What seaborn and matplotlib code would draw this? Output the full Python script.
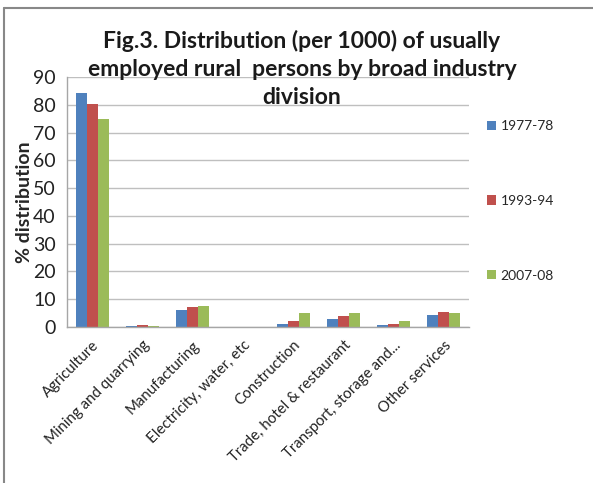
import matplotlib
matplotlib.use("Agg")
import matplotlib.pyplot as plt
import seaborn as sns
import pandas as pd
from matplotlib.lines import Line2D
from matplotlib.patches import Patch

categories = ["Agriculture", "Mining and quarrying", "Manufacturing",
              "Electricity, water, etc", "Construction",
              "Trade, hotel & restaurant", "Transport, storage and...",
              "Other services"]
series = ["1977-78", "1993-94", "2007-08"]
v1977 = [84.4, 0.5, 6.1, 0.0, 1.2, 3.0, 0.6, 4.2]
v1993 = [80.4, 0.7, 7.1, 0.0, 2.2, 3.9, 1.1, 5.3]
v2007 = [75.0, 0.5, 7.6, 0.0, 4.9, 4.9, 2.2, 4.9]
colors = ["#4F81BD", "#C0504D", "#9BBB59"]
yticks = [0, 10, 20, 30, 40, 50, 60, 70, 80, 90]

rows = []
for s, vals in zip(series, [v1977, v1993, v2007]):
    for c, v in zip(categories, vals):
        rows.append({"Industry": c, "Period": s, "Value": v})
df = pd.DataFrame(rows)

sns.set_style("white")
plt.rcParams["font.family"] = ["Lato", "DejaVu Sans"]

fig = plt.figure(figsize=(5.93, 4.83), dpi=100)
ax = fig.add_axes([67/593, 1-327/483, (469-67)/593, (327-77)/483])

sns.barplot(data=df, x="Industry", y="Value", hue="Period", order=categories,
            hue_order=series, palette=colors, width=0.66, gap=0,
            linewidth=0, edgecolor="none", saturation=1, ax=ax, legend=False)

ax.set_ylim(0, 90)
ax.set_xlim(-0.5, len(categories) - 0.5)
ax.set_yticks(yticks)
ax.set_yticklabels([str(t) for t in yticks], fontsize=14, color="#222222")
ax.yaxis.grid(True, color="#BFBFBF", linewidth=1)
ax.set_axisbelow(True)
for sp in ["top", "right"]:
    ax.spines[sp].set_visible(False)
for sp in ["left", "bottom"]:
    ax.spines[sp].set_color("#A6A6A6")
    ax.spines[sp].set_linewidth(1)

ax.set_xticks(range(len(categories)))
ax.set_xticklabels(categories, rotation=45, ha="right", rotation_mode="anchor",
                   fontsize=10.8, color="#222222")
ax.tick_params(axis="x", which="major", length=0, pad=8)
ax.set_xticks([i - 0.5 for i in range(len(categories) + 1)], minor=True)
ax.tick_params(axis="x", which="minor", length=5, color="#A6A6A6", direction="out")
ax.tick_params(axis="y", which="major", length=5, color="#A6A6A6", direction="out", pad=3)

ax.set_xlabel("")
ax.set_ylabel("% distribution", fontsize=14, fontweight="bold", labelpad=0)

handles = [Patch(facecolor=c, edgecolor="none") for c in colors]
fig.legend(handles, series, loc="center left",
           bbox_to_anchor=(474/593, 1-201/483), frameon=False, fontsize=10,
           handlelength=0.65, handleheight=0.65, handletextpad=0.35,
           labelspacing=4.5)

fig.text(302/593, 1-69/483,
         "Fig.3. Distribution (per 1000) of usually\nemployed rural  persons by broad industry\ndivision",
         ha="center", va="center", fontsize=16.5, fontweight="bold",
         linespacing=1.4, color="#1a1a1a")

fig.add_artist(Line2D([4/593, 1], [1-8/483, 1-8/483], transform=fig.transFigure,
                      color="#888888", linewidth=1.5))
fig.add_artist(Line2D([4/593, 4/593], [0, 1-8/483], transform=fig.transFigure,
                      color="#888888", linewidth=1.5))

fig.savefig("out.png", dpi=100)
